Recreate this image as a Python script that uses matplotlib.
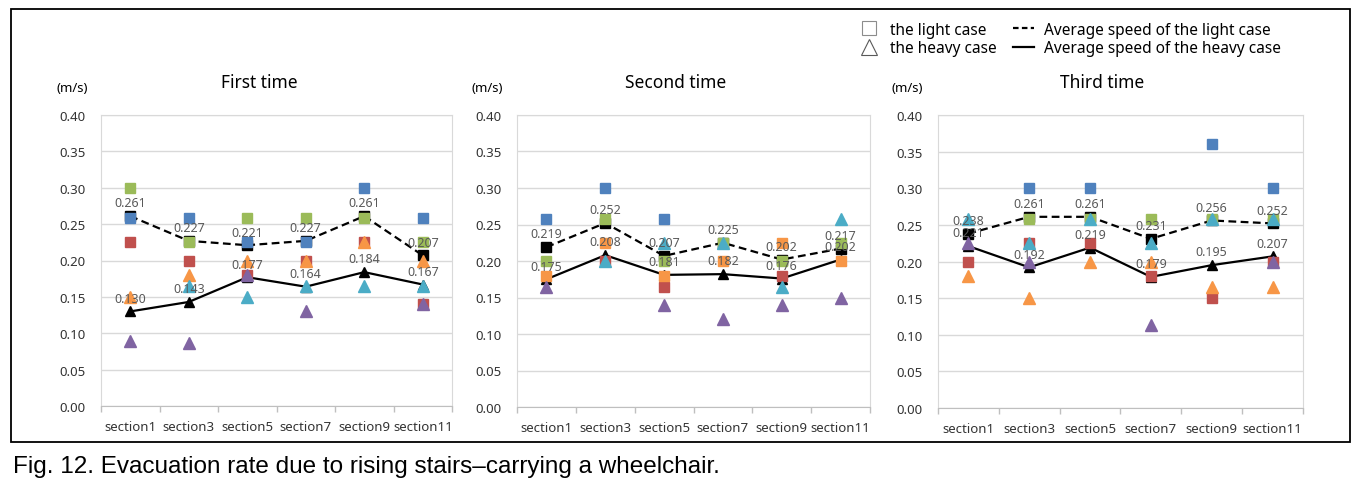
import numpy as np
import matplotlib
matplotlib.use("Agg")
import matplotlib.pyplot as plt
from matplotlib.lines import Line2D
from matplotlib.patches import Rectangle

plt.rcParams['font.family'] = ['Noto Sans', 'DejaVu Sans']

nan = np.nan
sections = ['section1', 'section3', 'section5', 'section7', 'section9', 'section11']
titles = ['First time', 'Second time', 'Third time']

# first time
first_blue = [0.258, 0.258, 0.225, 0.225, 0.30, 0.258]
first_red = [0.225, 0.20, 0.18, 0.20, 0.225, 0.14]
first_green = [0.30, 0.225, 0.258, 0.258, 0.258, 0.225]
first_orange = [0.15, 0.18, 0.20, 0.20, 0.225, 0.20]
first_teal = [nan, 0.165, 0.15, 0.165, 0.165, 0.165]
first_purple = [0.09, 0.086, 0.18, 0.13, nan, 0.14]
first_light_avg = [0.261, 0.227, 0.221, 0.227, 0.261, 0.207]
first_heavy_avg = [0.130, 0.143, 0.177, 0.164, 0.184, 0.167]

# second time (orange drawn as squares here)
second_blue = [0.258, 0.30, 0.258, nan, nan, nan]
second_red = [nan, 0.20, 0.165, nan, 0.18, nan]
second_green = [0.20, 0.258, 0.20, 0.225, 0.20, 0.225]
second_orange = [0.18, 0.225, 0.18, 0.20, 0.225, 0.20]
second_teal = [nan, 0.20, 0.225, 0.225, 0.165, 0.258]
second_purple = [0.165, nan, 0.14, 0.12, 0.14, 0.15]
second_light_avg = [0.219, 0.252, 0.207, 0.225, 0.202, 0.217]
second_heavy_avg = [0.175, 0.208, 0.181, 0.182, 0.176, 0.202]

# third time
third_blue = [nan, 0.30, 0.30, nan, 0.36, 0.30]
third_red = [0.20, 0.225, 0.225, 0.18, 0.15, 0.20]
third_green = [nan, 0.258, 0.258, 0.258, 0.258, 0.258]
third_orange = [0.18, 0.15, 0.20, 0.20, 0.165, 0.165]
third_teal = [0.258, 0.225, 0.258, 0.225, 0.258, 0.258]
third_purple = [0.225, 0.20, nan, 0.113, nan, 0.20]
third_light_avg = [0.238, 0.261, 0.261, 0.231, 0.256, 0.252]
third_heavy_avg = [0.221, 0.192, 0.219, 0.179, 0.195, 0.207]

BLUE, RED, GREEN = '#4F81BD', '#C0504D', '#9BBB59'
PURPLE, TEAL, ORANGE = '#8064A2', '#4BACC6', '#F79646'

panels = [
    dict(sq=[(first_blue, BLUE), (first_red, RED), (first_green, GREEN)],
         tri=[(first_orange, ORANGE), (first_teal, TEAL), (first_purple, PURPLE)],
         light=first_light_avg, heavy=first_heavy_avg,
         box=(101, 452, 407)),
    dict(sq=[(second_blue, BLUE), (second_red, RED), (second_green, GREEN), (second_orange, ORANGE)],
         tri=[(second_teal, TEAL), (second_purple, PURPLE)],
         light=second_light_avg, heavy=second_heavy_avg,
         box=(517, 870, 408)),
    dict(sq=[(third_blue, BLUE), (third_red, RED), (third_green, GREEN)],
         tri=[(third_orange, ORANGE), (third_teal, TEAL), (third_purple, PURPLE)],
         light=third_light_avg, heavy=third_heavy_avg,
         box=(938, 1303, 409)),
]

W, H = 1369, 481
fig = plt.figure(figsize=(W / 100, H / 100), dpi=100)

x = np.arange(len(sections))
for p, title in zip(panels, titles):
    l, r, b = p['box']
    top = 116
    ax = fig.add_axes([l / W, 1 - b / H, (r - l) / W, (b - top) / H])

    ax.plot(x, p['light'], color='black', ls=(0, (3.5, 2)), lw=1.6, marker='s', ms=6.5, zorder=2)
    ax.plot(x, p['heavy'], color='black', ls='-', lw=1.6, marker='^', ms=7, zorder=2)
    for vals, c in p['sq']:
        ax.plot(x, vals, ls='none', marker='s', ms=6.5, color=c, zorder=3)
    for vals, c in p['tri']:
        ax.plot(x, vals, ls='none', marker='^', ms=8, color=c, zorder=4)

    for xi, v in zip(x, p['light']):
        ax.annotate(f'{v:.3f}', (xi, v), xytext=(0, 9.5), textcoords='offset points',
                    ha='center', va='center', fontsize=9, color='#595959', zorder=5)
    for xi, v in zip(x, p['heavy']):
        ax.annotate(f'{v:.3f}', (xi, v), xytext=(0, 9.5), textcoords='offset points',
                    ha='center', va='center', fontsize=9, color='#595959', zorder=5)

    ax.set_xlim(-0.5, len(sections) - 0.5)
    ax.set_ylim(0, 0.40)
    ax.set_yticks(np.arange(0, 0.401, 0.05))
    ax.set_yticklabels([f'{t:.2f}' for t in np.arange(0, 0.401, 0.05)])
    ax.set_xticks(x)
    ax.set_xticklabels(sections)
    ax.set_xticks(np.arange(-0.5, len(sections), 1), minor=True)
    ax.tick_params(axis='y', length=0, pad=11, labelsize=9.5, labelcolor='#333333')
    ax.tick_params(axis='x', which='major', length=0, pad=10, labelsize=9.5, labelcolor='#333333')
    ax.tick_params(axis='x', which='minor', length=4.5, color='#BFBFBF', width=1)
    ax.grid(axis='y', color='#D9D9D9', lw=1)
    ax.set_axisbelow(True)
    for s in ax.spines.values():
        s.set_color('#D9D9D9')
    ax.spines['bottom'].set_color('#BFBFBF')

    ax.text(0.45, 1.113, title, transform=ax.transAxes, ha='center', va='center', fontsize=12.5)
    ax.text(-0.083, 1.093, '(m/s)', transform=ax.transAxes, ha='center', va='center', fontsize=9.5)

handles = [
    Line2D([], [], ls='none', marker='s', ms=10, mfc='white', mec='#8C8C8C', mew=0.8),
    Line2D([], [], ls='none', marker='^', ms=11, mfc='white', mec='#595959', mew=0.8),
    Line2D([], [], color='black', ls=(0, (2.5, 1.5)), lw=1.6),
    Line2D([], [], color='black', ls='-', lw=1.6),
]
labels = ['the light case', 'the heavy case',
          'Average speed of the light case', 'Average speed of the heavy case']
fig.legend(handles, labels, ncol=2, frameon=False, fontsize=11.1,
           loc='upper right', bbox_to_anchor=(1289 / W, 1 - 15 / H),
           handlelength=1.3, handletextpad=0.7, columnspacing=1.1,
           labelspacing=0.15, borderpad=0)

fig.add_artist(Rectangle((11 / W, 1 - 443 / H), (1350 - 11) / W, (443 - 10) / H,
                         transform=fig.transFigure, fill=False, ec='black', lw=1.3))

fig.text(13 / W, 1 - 473 / H,
         'Fig. 12. Evacuation rate due to rising stairs\u2013carrying a wheelchair.',
         ha='left', va='baseline', fontsize=17.5,
         family=['Liberation Sans', 'DejaVu Sans'])

fig.savefig('out.png', dpi=100)
